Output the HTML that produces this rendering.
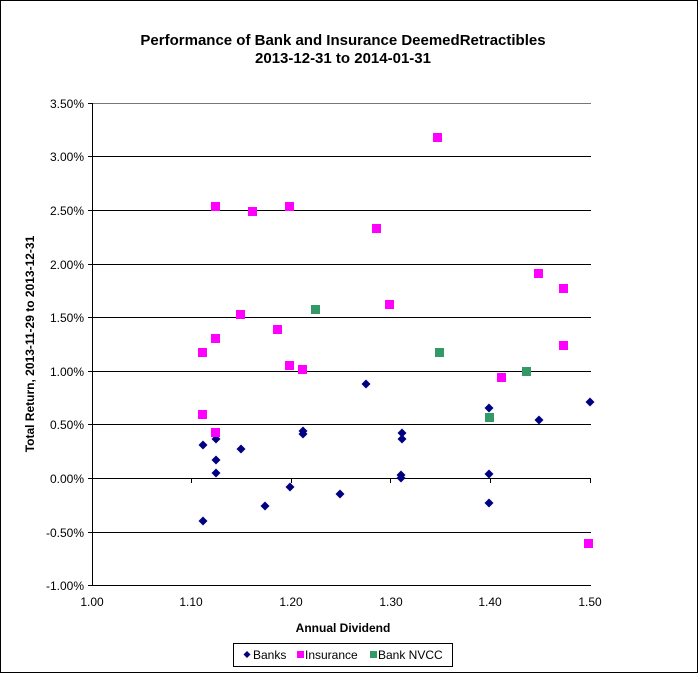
<!DOCTYPE html><html><head><style>body{margin:0;background:#fff}svg text{font-family:"Liberation Sans",Arial,sans-serif}</style></head><body>
<svg width="698" height="674" xmlns="http://www.w3.org/2000/svg">
<rect x="0.5" y="0.5" width="697" height="672" fill="#fff" stroke="#000" stroke-width="1"/>
<text x="343" y="45" font-size="15" font-weight="bold" text-anchor="middle">Performance of Bank and Insurance DeemedRetractibles</text>
<text x="343" y="63" font-size="15" font-weight="bold" text-anchor="middle">2013-12-31 to 2014-01-31</text>
<g stroke="#000" stroke-width="1">
<line x1="92" y1="103.5" x2="591" y2="103.5" stroke="#777"/>
<line x1="92" y1="156.5" x2="591" y2="156.5"/>
<line x1="92" y1="210.5" x2="591" y2="210.5"/>
<line x1="92" y1="264.5" x2="591" y2="264.5"/>
<line x1="92" y1="317.5" x2="591" y2="317.5"/>
<line x1="92" y1="371.5" x2="591" y2="371.5"/>
<line x1="92" y1="424.5" x2="591" y2="424.5"/>
<line x1="92" y1="478.5" x2="591" y2="478.5"/>
<line x1="92" y1="532.5" x2="591" y2="532.5"/>
<line x1="92" y1="585.5" x2="591" y2="585.5"/>
<line x1="92.5" y1="103" x2="92.5" y2="586"/>
<line x1="88" y1="103.5" x2="92" y2="103.5"/><line x1="88" y1="156.5" x2="92" y2="156.5"/><line x1="88" y1="210.5" x2="92" y2="210.5"/><line x1="88" y1="264.5" x2="92" y2="264.5"/><line x1="88" y1="317.5" x2="92" y2="317.5"/><line x1="88" y1="371.5" x2="92" y2="371.5"/><line x1="88" y1="424.5" x2="92" y2="424.5"/><line x1="88" y1="478.5" x2="92" y2="478.5"/><line x1="88" y1="532.5" x2="92" y2="532.5"/><line x1="88" y1="585.5" x2="92" y2="585.5"/>
<line x1="191.5" y1="478" x2="191.5" y2="483"/><line x1="291.5" y1="478" x2="291.5" y2="483"/><line x1="390.5" y1="478" x2="390.5" y2="483"/><line x1="490.5" y1="478" x2="490.5" y2="483"/><line x1="590.5" y1="478" x2="590.5" y2="483"/>
</g>
<g font-size="12" text-anchor="end">
<text x="84" y="108">3.50%</text><text x="84" y="161">3.00%</text><text x="84" y="215">2.50%</text><text x="84" y="269">2.00%</text><text x="84" y="322">1.50%</text><text x="84" y="376">1.00%</text><text x="84" y="429">0.50%</text><text x="84" y="483">0.00%</text><text x="84" y="537">-0.50%</text><text x="84" y="590">-1.00%</text>
</g>
<g font-size="12" text-anchor="middle">
<text x="92" y="606">1.00</text><text x="191" y="606">1.10</text><text x="291" y="606">1.20</text><text x="391" y="606">1.30</text><text x="490" y="606">1.40</text><text x="590" y="606">1.50</text>
</g>
<text x="343" y="632" font-size="12" font-weight="bold" text-anchor="middle">Annual Dividend</text>
<text transform="translate(34,344) rotate(-90)" font-size="12" font-weight="bold" text-anchor="middle">Total Return, 2013-11-29  to 2013-12-31</text>
<g fill="#000080">
<path d="M0,-4.5L4.5,0L0,4.5L-4.5,0Z" transform="translate(203,445)"/>
<path d="M0,-4.5L4.5,0L0,4.5L-4.5,0Z" transform="translate(216,439)"/>
<path d="M0,-4.5L4.5,0L0,4.5L-4.5,0Z" transform="translate(216,460)"/>
<path d="M0,-4.5L4.5,0L0,4.5L-4.5,0Z" transform="translate(216,473)"/>
<path d="M0,-4.5L4.5,0L0,4.5L-4.5,0Z" transform="translate(241,449)"/>
<path d="M0,-4.5L4.5,0L0,4.5L-4.5,0Z" transform="translate(203,521)"/>
<path d="M0,-4.5L4.5,0L0,4.5L-4.5,0Z" transform="translate(265,506)"/>
<path d="M0,-4.5L4.5,0L0,4.5L-4.5,0Z" transform="translate(290,487)"/>
<path d="M0,-4.5L4.5,0L0,4.5L-4.5,0Z" transform="translate(303,431)"/>
<path d="M0,-4.5L4.5,0L0,4.5L-4.5,0Z" transform="translate(303,434)"/>
<path d="M0,-4.5L4.5,0L0,4.5L-4.5,0Z" transform="translate(340,494)"/>
<path d="M0,-4.5L4.5,0L0,4.5L-4.5,0Z" transform="translate(366,384)"/>
<path d="M0,-4.5L4.5,0L0,4.5L-4.5,0Z" transform="translate(402,433)"/>
<path d="M0,-4.5L4.5,0L0,4.5L-4.5,0Z" transform="translate(402,439)"/>
<path d="M0,-4.5L4.5,0L0,4.5L-4.5,0Z" transform="translate(401,475)"/>
<path d="M0,-4.5L4.5,0L0,4.5L-4.5,0Z" transform="translate(401,478)"/>
<path d="M0,-4.5L4.5,0L0,4.5L-4.5,0Z" transform="translate(489,408)"/>
<path d="M0,-4.5L4.5,0L0,4.5L-4.5,0Z" transform="translate(489,474)"/>
<path d="M0,-4.5L4.5,0L0,4.5L-4.5,0Z" transform="translate(489,503)"/>
<path d="M0,-4.5L4.5,0L0,4.5L-4.5,0Z" transform="translate(539,420)"/>
<path d="M0,-4.5L4.5,0L0,4.5L-4.5,0Z" transform="translate(590,402)"/>
</g>
<g fill="#ff00ff">
<rect x="198" y="348" width="9" height="9"/><rect x="198" y="410" width="9" height="9"/><rect x="211" y="202" width="9" height="9"/><rect x="211" y="334" width="9" height="9"/><rect x="211" y="428" width="9" height="9"/><rect x="236" y="310" width="9" height="9"/><rect x="248" y="207" width="9" height="9"/><rect x="273" y="325" width="9" height="9"/><rect x="285" y="202" width="9" height="9"/><rect x="285" y="361" width="9" height="9"/><rect x="298" y="365" width="9" height="9"/><rect x="372" y="224" width="9" height="9"/><rect x="385" y="300" width="9" height="9"/><rect x="433" y="133" width="9" height="9"/><rect x="497" y="373" width="9" height="9"/><rect x="534" y="269" width="9" height="9"/><rect x="559" y="284" width="9" height="9"/><rect x="559" y="341" width="9" height="9"/><rect x="584" y="539" width="9" height="9"/>
</g>
<g fill="#339966">
<rect x="311" y="305" width="9" height="9"/><rect x="435" y="348" width="9" height="9"/><rect x="485" y="413" width="9" height="9"/><rect x="522" y="367" width="9" height="9"/>
</g>
<rect x="233.5" y="643.5" width="219" height="23" fill="#fff" stroke="#000"/>
<path d="M247,651L250.5,654.5L247,658L243.5,654.5Z" fill="#000080"/>
<text x="253" y="659" font-size="12">Banks</text>
<rect x="297" y="651" width="7" height="7" fill="#ff00ff"/>
<text x="305" y="659" font-size="12">Insurance</text>
<rect x="370" y="651" width="7" height="7" fill="#339966"/>
<text x="378" y="659" font-size="12">Bank NVCC</text>
</svg>
</body></html>
